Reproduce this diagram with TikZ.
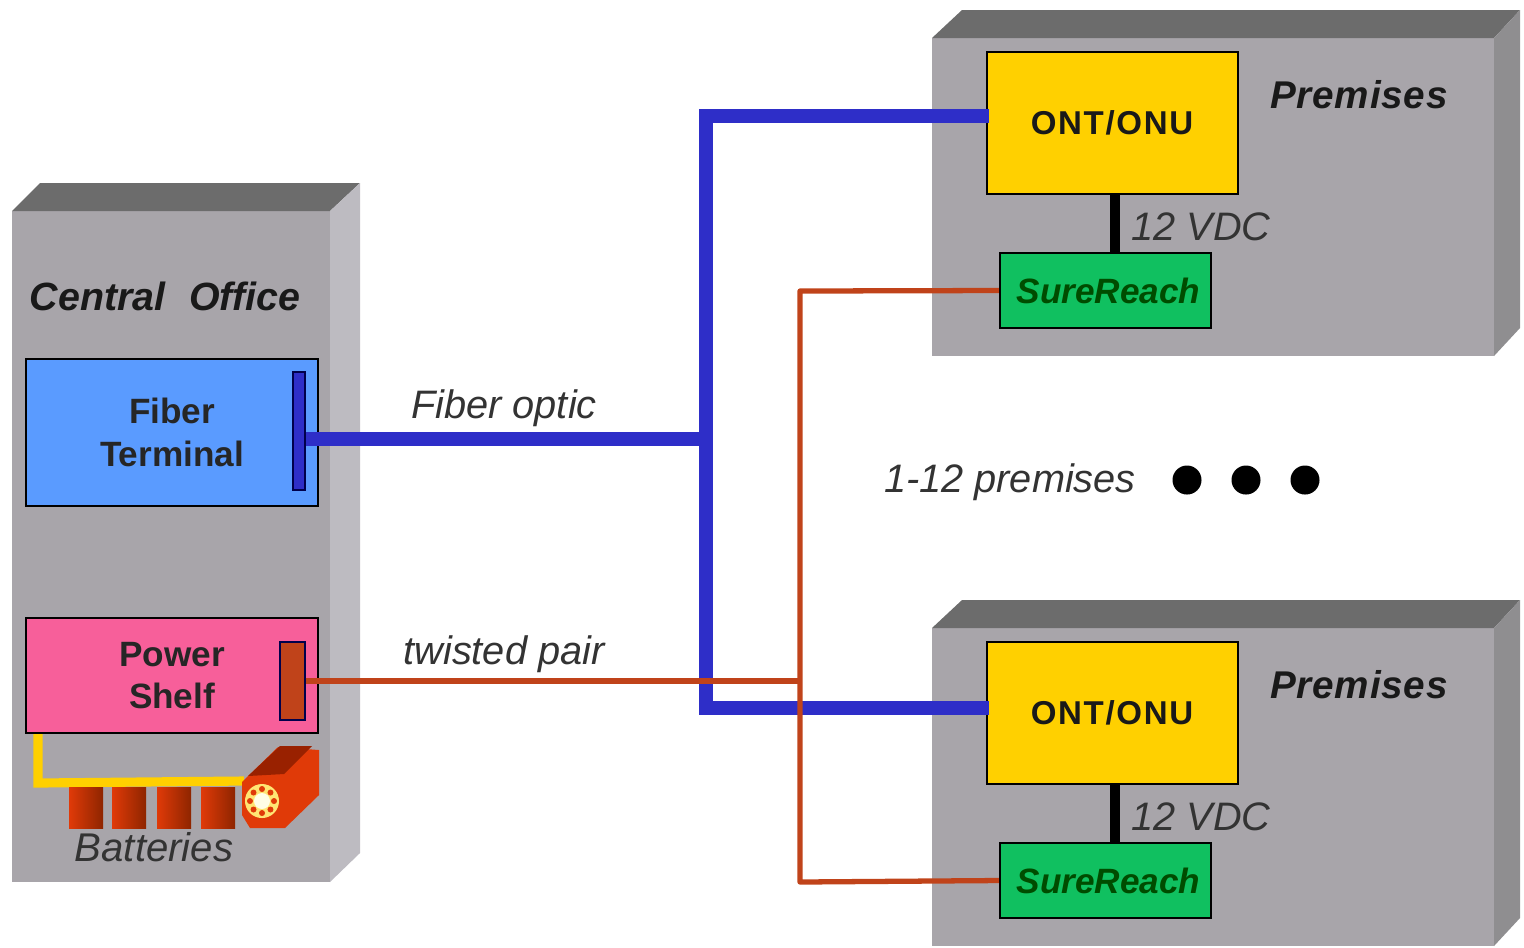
\documentclass[tikz,border=0pt]{standalone}
\usepackage{fontspec}
\setmainfont{Liberation Sans}
\usepackage{tikz}
\usetikzlibrary{calc}
\definecolor{wallfront}{HTML}{A8A5AA}
\definecolor{walltop}{HTML}{6C6C6C}
\definecolor{wallside}{HTML}{8F8E90}
\definecolor{wallsidelight}{HTML}{BDBBC1}
\definecolor{fiberblue}{HTML}{2E2EC8}
\definecolor{copperred}{HTML}{C0431A}
\definecolor{battred}{HTML}{E03A08}
\definecolor{battdark}{HTML}{8E2500}
\definecolor{ontyellow}{HTML}{FFD000}
\definecolor{terminalblue}{HTML}{5A9BFF}
\definecolor{shelfpink}{HTML}{F75F9A}
\definecolor{reachgreen}{HTML}{10C060}
\tikzset{
	unit/.style={draw=black,line width=.55pt,inner sep=0pt,align=center},
	port/.style={draw=black!70!blue,line width=.4pt,inner sep=0pt},
	head/.style={font=\fontsize{11.2}{13}\selectfont\bfseries\itshape,text=black!90},
	boxtext/.style={font=\fontsize{10}{12.2}\selectfont\bfseries,text=black!85},
	note/.style={font=\fontsize{11.3}{13}\selectfont\itshape,text=black!80},
	fiber/.style={fiberblue,line width=4pt},
	pair/.style={copperred,line width=1.5pt,line join=round},
}
\begin{document}
\begin{tikzpicture}[x=.01cm,y=-.01cm]
	\useasboundingbox (0,0) rectangle (1524,947);
	%central office
	\fill[wallfront] (12,211) rectangle (330,882);
	\fill[walltop] (12,211) -- (40,183) -- (360,183) -- (330,211) -- cycle;
	\fill[wallsidelight] (330,211) -- (360,183) -- (360,853) -- (330,882) -- cycle;
	\node[head] (office) at (165,296) {Central\hspace{.6em}Office};
	\node[unit,fill=terminalblue,minimum width=2.92cm,minimum height=1.47cm,boxtext] (terminal) at (172,432.5) {Fiber\\Terminal};
	\node[port,fill=fiberblue,minimum width=.12cm,minimum height=1.18cm] (fiberport) at (299,431) {};
	\node[unit,fill=shelfpink,minimum width=2.92cm,minimum height=1.15cm,boxtext] (shelf) at (172,675.5) {Power\\Shelf};
	\node[port,fill=copperred,minimum width=.25cm,minimum height=.78cm] (pairport) at (292.5,681) {};
	%batteries
	\coordinate (battcorner) at (38,783);
	\coordinate (battend) at (244,781);
	\draw[ontyellow,line width=2.6pt] (shelf.south west -| battcorner) -- (battcorner) -- (battend);
	\foreach \x in {69,112,157,201} {
		\shade[left color=battred,right color=battdark] (\x,787) rectangle (\x+34,828);
	}
	\fill[battred] (242,782) -- (278,747) -- (319,750) -- (319,795) -- (285,828) -- (250,828) -- (242,815) -- cycle;
	\fill[battdark!90!red] (248,776) -- (280,746) -- (312,746) -- (284,774) -- cycle;
	\fill[ontyellow!55!white] (262,801) circle (.17cm);
	\fill[white!90!yellow] (262,801) circle (.08cm);
	\foreach \a in {0,45,...,315} {
		\fill[battred] (262,801) ++(\a:.12cm) circle (.03cm);
	}
	\node[note,font=\fontsize{11.4}{13}\selectfont\itshape] (batteries) at (154,847) {Batteries};
	%premises
	\foreach \n/\dy in {a/0,b/590} {
		\begin{scope}[shift={(0,\dy)}]
			\fill[wallfront] (932,38) rectangle (1494,356);
			\fill[walltop] (932,38) -- (962,10) -- (1520,10) -- (1494,38) -- cycle;
			\fill[wallside] (1494,38) -- (1520,10) -- (1520,328) -- (1494,356) -- cycle;
			\node[head,font=\fontsize{11}{13}\selectfont\bfseries\itshape\addfontfeature{LetterSpace=2}] (place\n) at (1359,95) {Premises};
			\node[unit,fill=ontyellow,minimum width=2.51cm,minimum height=1.42cm] (ont\n) at (1112.5,123) {};
			\node[font=\fontsize{9.4}{12}\selectfont\bfseries\addfontfeature{LetterSpace=5},text=black!90] (onttext\n) at (1112,123) {ONT/ONU};
			\node[unit,fill=reachgreen,minimum width=2.11cm,minimum height=.75cm] (reach\n) at (1105.5,290.5) {};
			\node[font=\fontsize{10}{12}\selectfont\bfseries\itshape,text=black!70!green] (reachtext\n) at (1108.5,291) {SureReach};
			\coordinate (tap\n) at (1115,200);
			\draw[black,line width=2.6pt] (ont\n.south -| tap\n) -- (reach\n.north -| tap\n);
			\node[note] (vdc\n) at (1201,227) {12 VDC};
		\end{scope}
	}
	%fiber
	\coordinate (bustop) at (706,116);
	\coordinate (busmid) at (706,439);
	\coordinate (busbot) at (706,708);
	\draw[fiber] (fiberport.east |- busmid) -- (busmid);
	\draw[fiber,shorten <=-.03cm,shorten >=-.03cm] (onta.west |- bustop) -- (bustop) -- (busbot) -- (ontb.west |- busbot);
	%twisted pair
	\coordinate (pairjoin) at (800,681);
	\coordinate (pairtop) at (800,291);
	\coordinate (pairbot) at (800,882);
	\draw[pair] (pairport.east |- pairjoin) -- (pairjoin);
	\draw[pair] (reacha.west) -- (pairtop) -- (pairbot) -- (reachb.west);
	\node[note] (fiberlabel) at (504,408) {Fiber optic};
	\node[note] (pairlabel) at (504,654) {twisted pair};
	\node[note] (count) at (1010,482) {1-12 premises};
	\foreach \x/\n in {1187/1,1246/2,1305/3} {
		\fill[black] (\x,480) circle (.145cm);
	}
\end{tikzpicture}
\end{document}
